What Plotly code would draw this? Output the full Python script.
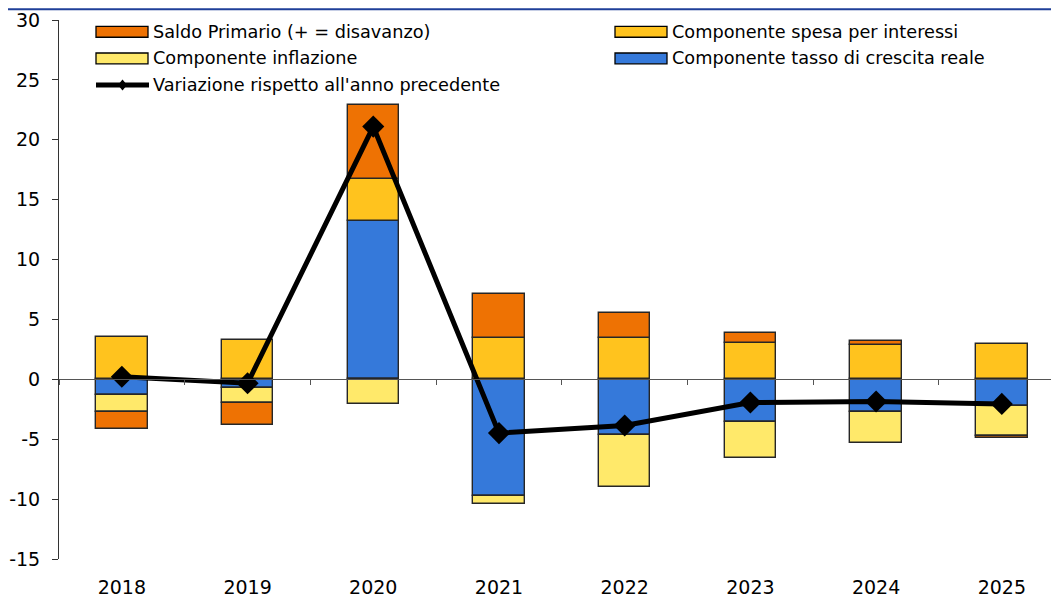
import plotly.graph_objects as go

years = ["2018", "2019", "2020", "2021", "2022", "2023", "2024", "2025"]
crescita_reale = [-1.27, -0.69, 13.23, -9.74, -4.68, -3.55, -2.71, -2.19]
spesa_interessi = [3.57, 3.27, 3.46, 3.46, 3.41, 3.05, 2.90, 2.93]
inflazione = [-1.43, -1.28, -2.05, -0.70, -4.32, -3.04, -2.61, -2.52]
saldo_primario = [-1.46, -1.83, 6.18, 3.68, 2.13, 0.80, 0.34, -0.19]
variazione = [0.22, -0.33, 21.1, -4.49, -3.85, -1.94, -1.85, -2.05]

y_ticks = [-15, -10, -5, 0, 5, 10, 15, 20, 25, 30]
y_ticklabels = ["-15", "-10", "-5", "0", "5", "10", "15", "20", "25", "30"]

names = {
    "saldo": "Saldo Primario (+ = disavanzo)",
    "interessi": "Componente spesa per interessi",
    "inflazione": "Componente inflazione",
    "crescita": "Componente tasso di crescita reale",
    "variazione": "Variazione rispetto all'anno precedente",
}
colors = {
    "saldo": "#EE7203",
    "interessi": "#FFC31E",
    "inflazione": "#FFE96A",
    "crescita": "#3579DA",
}

FONT = "DejaVu Sans"
FS_TICK = 19
FS_LEG = 17.7
outline = dict(color="#262626", width=1.4)
bw = 0.41
x_range = [-0.5, 7.455]

# figure geometry (page is offset by the 8px body margin)
OFF = 8
W, H = 1051, 590
ML, MR, MT, MB = 51, 0, 12, 31

fig = go.Figure()
for key, vals in [("crescita", crescita_reale), ("interessi", spesa_interessi),
                  ("inflazione", inflazione), ("saldo", saldo_primario)]:
    fig.add_trace(go.Bar(x=years, y=vals, name=names[key], width=bw,
                         marker=dict(color=colors[key], line=outline),
                         showlegend=False))

fig.add_trace(go.Scatter(x=years, y=variazione, name=names["variazione"],
                         mode="lines+markers",
                         line=dict(color="black", width=5),
                         marker=dict(symbol="diamond", size=17, color="black"),
                         showlegend=False))

# invisible trace to carry the zero-level axis with boundary ticks
fig.add_trace(go.Scatter(x=years, y=[None] * len(years), xaxis="x2",
                         showlegend=False, hoverinfo="skip"))

fig.update_layout(
    width=W, height=H,
    margin=dict(l=ML, r=MR, t=MT, b=MB),
    barmode="relative",
    bargap=0,
    plot_bgcolor="white", paper_bgcolor="white",
    font=dict(family=FONT, size=FS_TICK, color="black"),
    xaxis=dict(type="category", range=x_range, showline=False, ticks="",
               showgrid=False, zeroline=False, tickfont=dict(size=FS_TICK),
               ticklabelstandoff=15),
    xaxis2=dict(type="category", range=x_range, overlaying="x",
                anchor="free", position=1/3, showline=True,
                linecolor="#555555", linewidth=1, ticks="outside",
                tickson="boundaries", ticklen=5, tickcolor="#555555",
                showticklabels=False, showgrid=False, zeroline=False),
    yaxis=dict(range=[-15, 30], tickvals=y_ticks, ticktext=y_ticklabels,
               showline=True, linecolor="#333333",
               linewidth=1, ticks="outside", ticklen=6, tickcolor="#333333",
               showgrid=False, zeroline=False, tickfont=dict(size=FS_TICK),
               ticklabelstandoff=8),
)

# manual legend (two columns) in paper coordinates, given page pixels
def px(x):
    return (x - OFF - ML) / (W - ML - MR)
def py(y):
    return (H - MB - (y - OFF)) / (H - MB - MT)

shapes = []
annots = []
legend_items = [
    ("saldo", 96, 148, 32),
    ("inflazione", 96, 148, 59),
    ("interessi", 615, 667, 32),
    ("crescita", 615, 667, 59),
]
for key, x0, x1, yc in legend_items:
    shapes.append(dict(type="rect", xref="paper", yref="paper",
                       x0=px(x0), x1=px(x1), y0=py(yc + 5.5), y1=py(yc - 5.5),
                       fillcolor=colors[key], line=dict(color="black", width=1.3)))
    annots.append(dict(xref="paper", yref="paper", x=px(x1 + 3), y=py(yc),
                       text=names[key], showarrow=False, xanchor="left",
                       yanchor="middle", font=dict(size=FS_LEG, family=FONT)))
# line legend entry
shapes.append(dict(type="line", xref="paper", yref="paper",
                   x0=px(96), x1=px(149), y0=py(86), y1=py(86),
                   line=dict(color="black", width=5)))
shapes.append(dict(type="path", xref="paper", yref="paper",
                   path="M {a},{b} L {c},{d} L {a},{e} L {f},{d} Z".format(
                       a=px(122.5), b=py(80.5), c=px(127), d=py(86),
                       e=py(91.5), f=px(118)),
                   fillcolor="black", line=dict(color="black", width=0)))
annots.append(dict(xref="paper", yref="paper", x=px(151), y=py(86),
                   text=names["variazione"], showarrow=False, xanchor="left",
                   yanchor="middle", font=dict(size=FS_LEG, family=FONT)))

# top border line
shapes.append(dict(type="line", xref="paper", yref="paper",
                   x0=px(OFF), x1=px(OFF + W), y0=py(OFF + 1), y1=py(OFF + 1),
                   line=dict(color="#1F3F99", width=2)))

fig.update_layout(shapes=shapes, annotations=annots)
fig.write_html("out.html")
